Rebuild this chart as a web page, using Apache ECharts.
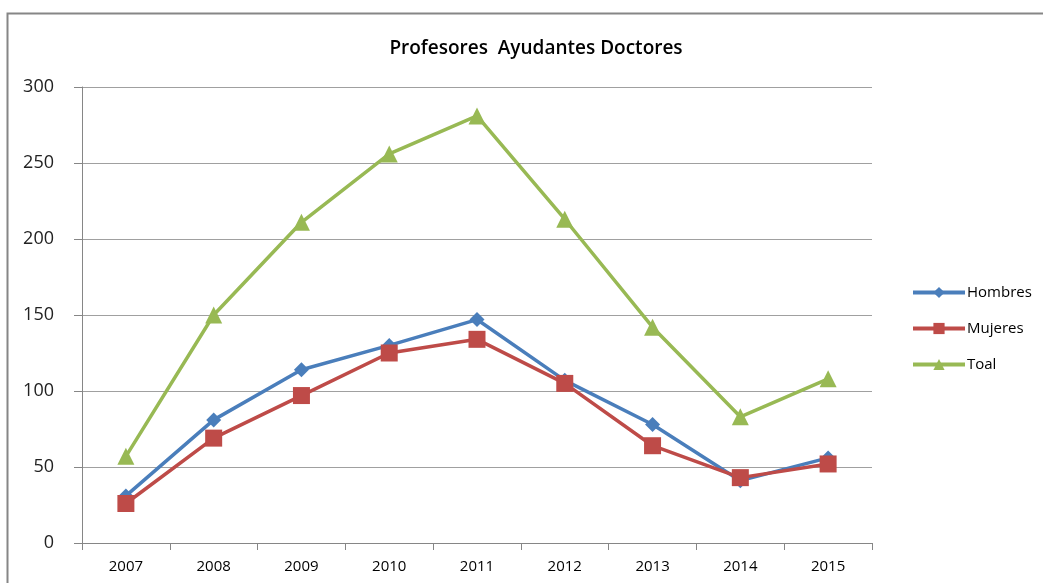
<!DOCTYPE html>
<html><head><meta charset="utf-8">
<script src="https://cdn.jsdelivr.net/npm/echarts@6/dist/echarts.min.js"></script>
<style>html,body{margin:0;padding:0;background:#fff}#c{width:1043px;height:583px}</style>
</head><body><div id="c"></div>
<script>
const categories = ['2007','2008','2009','2010','2011','2012','2013','2014','2015'];
const hombres = [31, 81, 114, 130, 147, 107, 78, 41, 56];
const mujeres = [26, 69, 97, 125, 134, 105, 64, 43, 52];
const toal = [57, 150, 211, 256, 281, 213, 142, 83, 108];
const yTicks = [0, 50, 100, 150, 200, 250, 300];

const chart = echarts.init(document.getElementById('c'));
const font = '"Liberation Sans Narrow","Open Sans",sans-serif';
chart.setOption({
  animation: false,
  graphic: [{type:'rect', shape:{x:7.5,y:13.5,width:1100,height:700}, style:{fill:'none', stroke:'#868686', lineWidth:2}, silent:true}],
  title: {text:'Profesores  Ayudantes Doctores', left: 531, top: 34, textAlign:'center',
    textStyle:{fontFamily:'"Open Sans",sans-serif', fontSize:19, fontWeight:600, color:'#000'}},
  legend: {orient:'vertical', left: 906, top: 280, itemWidth: 52, itemHeight: 14, itemGap: 21,
    textStyle:{fontFamily:'"Open Sans",sans-serif', fontSize:15, color:'#000', padding:[0,0,0,-3]},
    lineStyle:{width:4},
    data:['Hombres','Mujeres','Toal']},
  grid: {left: 82, right: 171, top: 87, bottom: 40},
  xAxis: {type:'category', data: categories, boundaryGap:true,
    axisLine:{lineStyle:{color:'#868686'}},
    axisTick:{show:true, length:7, lineStyle:{color:'#868686'}},
    axisLabel:{fontFamily:font, fontSize:15, color:'#000', margin:16}},
  yAxis: {type:'value', min: yTicks[0], max: yTicks[yTicks.length-1], interval: 50,
    axisLine:{show:true, lineStyle:{color:'#868686'}},
    axisTick:{show:true, length:8, lineStyle:{color:'#868686'}},
    splitLine:{lineStyle:{color:'#a0a0a0'}},
    axisLabel:{fontFamily:'"Open Sans",sans-serif', fontSize:18, color:'#222', margin:28}},
  series: [
    {name:'Hombres', type:'line', data:hombres, symbol:'diamond', symbolSize:15,
      itemStyle:{color:'#4a7ebb'}, lineStyle:{width:3.5, color:'#4a7ebb'}},
    {name:'Mujeres', type:'line', data:mujeres, symbol:'rect', symbolSize:17,
      itemStyle:{color:'#be4b48'}, lineStyle:{width:3.5, color:'#be4b48'}},
    {name:'Toal', type:'line', data:toal, symbol:'triangle', symbolSize:17,
      itemStyle:{color:'#98b954'}, lineStyle:{width:3.5, color:'#98b954'}}
  ]
});
</script></body></html>
